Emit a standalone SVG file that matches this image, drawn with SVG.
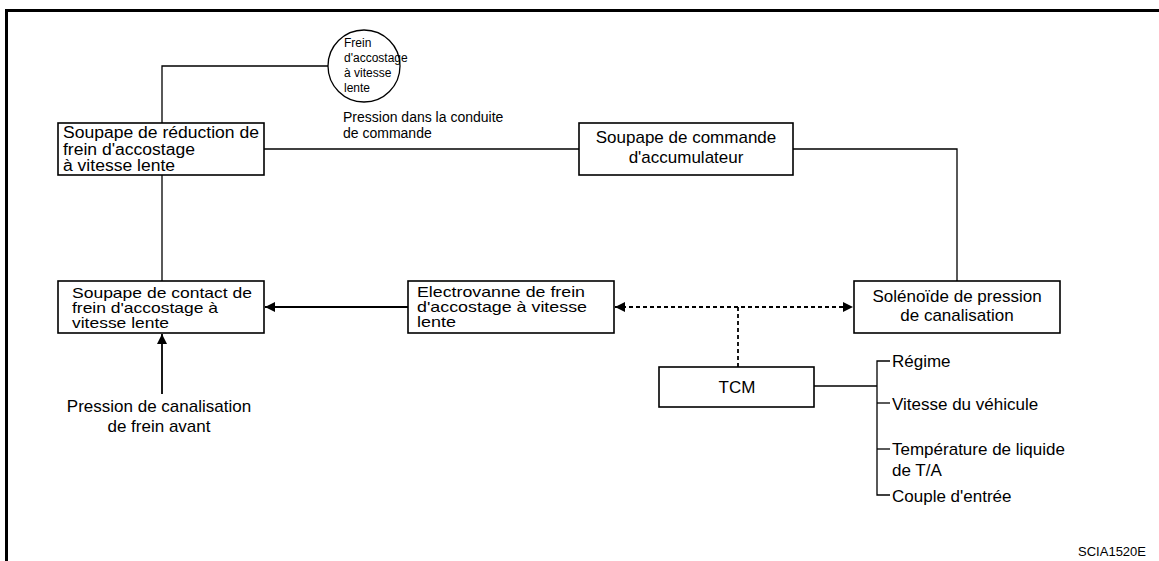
<svg xmlns="http://www.w3.org/2000/svg" width="1159" height="561" viewBox="0 0 1159 561">
<defs>
<style>
text{font-family:"Liberation Sans",Arial,sans-serif;fill:#000}
.box{fill:#fff;stroke:#000;stroke-width:1.6}
.ln{fill:none;stroke:#000;stroke-width:1.3}
.ar{fill:none;stroke:#000;stroke-width:1.8}
.ds{fill:none;stroke:#000;stroke-width:1.8;stroke-dasharray:4 3}
.t17{font-size:17px}
.t16{font-size:16px}
.t15{font-size:15px}
.t12{font-size:12px}
.t13{font-size:13px}
.t14{font-size:14px}
</style>
<marker id="ah" viewBox="0 0 10 10" refX="10" refY="5" markerWidth="10" markerHeight="10" markerUnits="userSpaceOnUse" orient="auto-start-reverse">
<path d="M0,0 L10,5 L0,10 z" fill="#000"/>
</marker>
</defs>
<rect width="1159" height="561" fill="#fff"/>
<g id="frame">
<path d="M6.5,561 V10.5 H1159" fill="none" stroke="#000" stroke-width="3"/>
</g>
<g id="connectors">
<path class="ln" d="M328,66 H162 V123"/>
<path class="ln" d="M264,149 H579"/>
<path class="ln" d="M793,149 H957 V281"/>
<path class="ln" d="M162,175 V281"/>
<path class="ar" d="M408,307 H265" marker-end="url(#ah)"/>
<path class="ar" d="M162,394 V334" marker-end="url(#ah)"/>
<path class="ds" d="M615,307 H853" marker-start="url(#ah)" marker-end="url(#ah)"/>
<path class="ds" d="M738,307 V367"/>
<path class="ln" d="M814,386 H877"/>
<path class="ln" d="M890,361 H877 V495 H890"/>
<path class="ln" d="M877,403 H890"/>
<path class="ln" d="M877,449 H890"/>
</g>
<g id="n-circle">
<circle cx="364" cy="66" r="36" fill="#fff" stroke="#000" stroke-width="1.3"/>
<text class="t12" x="344" y="47">Frein</text>
<text class="t12" x="344" y="62">d'accostage</text>
<text class="t12" x="344" y="77">à vitesse</text>
<text class="t12" x="344" y="92">lente</text>
</g>
<g id="n-pression-label">
<text class="t14" x="343" y="122">Pression dans la conduite</text>
<text class="t14" x="343" y="138">de commande</text>
</g>
<g id="n-reduction">
<rect class="box" x="58" y="123" width="206" height="52"/>
<text class="t16" x="63" y="138" textLength="196" lengthAdjust="spacingAndGlyphs">Soupape de réduction de</text>
<text class="t16" x="63" y="155" textLength="132" lengthAdjust="spacingAndGlyphs">frein d'accostage</text>
<text class="t16" x="63" y="171" textLength="112" lengthAdjust="spacingAndGlyphs">à vitesse lente</text>
</g>
<g id="n-accumulateur">
<rect class="box" x="579" y="123" width="214" height="52"/>
<text class="t17" x="686" y="143" text-anchor="middle">Soupape de commande</text>
<text class="t17" x="686" y="163" text-anchor="middle">d'accumulateur</text>
</g>
<g id="n-contact">
<rect class="box" x="58" y="281" width="206" height="52"/>
<text class="t15" x="72" y="298" textLength="180" lengthAdjust="spacingAndGlyphs">Soupape de contact de</text>
<text class="t15" x="72" y="313" textLength="146" lengthAdjust="spacingAndGlyphs">frein d'accostage à</text>
<text class="t15" x="72" y="328" textLength="97" lengthAdjust="spacingAndGlyphs">vitesse lente</text>
</g>
<g id="n-electrovanne">
<rect class="box" x="408" y="281" width="206" height="52"/>
<text class="t15" x="417" y="297" textLength="168" lengthAdjust="spacingAndGlyphs">Electrovanne de frein</text>
<text class="t15" x="417" y="312" textLength="170" lengthAdjust="spacingAndGlyphs">d'accostage à vitesse</text>
<text class="t15" x="417" y="327" textLength="39" lengthAdjust="spacingAndGlyphs">lente</text>
</g>
<g id="n-solenoide">
<rect class="box" x="854" y="281" width="206" height="52"/>
<text class="t17" x="957" y="302" text-anchor="middle">Solénoïde de pression</text>
<text class="t17" x="957" y="321" text-anchor="middle">de canalisation</text>
</g>
<g id="n-tcm">
<rect class="box" x="659" y="367" width="155" height="40"/>
<text class="t17" x="737" y="393" text-anchor="middle">TCM</text>
</g>
<g id="n-frein-avant">
<text class="t17" x="159" y="412" text-anchor="middle">Pression de canalisation</text>
<text class="t17" x="159" y="432" text-anchor="middle">de frein avant</text>
</g>
<g id="n-inputs">
<text class="t17" x="892" y="367">Régime</text>
<text class="t17" x="892" y="410">Vitesse du véhicule</text>
<text class="t17" x="892" y="455">Température de liquide</text>
<text class="t17" x="892" y="476">de T/A</text>
<text class="t17" x="892" y="502">Couple d'entrée</text>
</g>
<text class="t13" x="1146" y="556" text-anchor="end">SCIA1520E</text>
</svg>
